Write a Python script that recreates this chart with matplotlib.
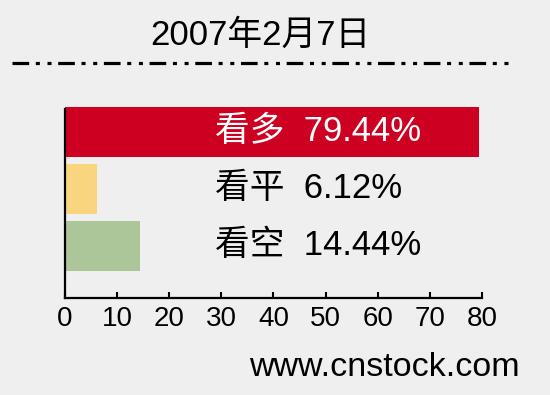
import matplotlib
matplotlib.use("Agg")
import matplotlib.pyplot as plt
from matplotlib.lines import Line2D

# data (bottom to top)
categories = ["看空", "看平", "看多"]
values = [14.44, 6.12, 79.44]
colors = ["#adc699", "#f9d57f", "#ce0021"]
text_colors = ["black", "black", "white"]
title = "2007年2月7日"
source = "www.cnstock.com"
xticks = [0, 10, 20, 30, 40, 50, 60, 70, 80]

plt.rcParams['font.family'] = ['Liberation Sans', 'Noto Sans CJK SC']
plt.rcParams['lines.scale_dashes'] = False

bg = "#efefef"
fig = plt.figure(figsize=(5.5, 3.95), dpi=100, facecolor=bg)
ax = fig.add_axes([0.118, 0.2456, 0.7584, 0.4785], facecolor=bg)

ypos = list(range(len(values)))
ax.barh(ypos, values, height=0.88, color=colors, clip_on=False, zorder=2)

# labels inside the chart
for y, cat, val, tc in zip(ypos, categories, values, text_colors):
    ax.text(28.7, y, f"{cat}  {val:.2f}%", color=tc, fontsize=25,
            va="center", ha="left", zorder=3)

ax.set_xlim(0, 80)
ax.set_ylim(-0.912, 2.40)
ax.set_xticks(xticks)
ax.set_xticklabels([str(t) for t in xticks], fontsize=20)
ax.set_yticks([])
ax.tick_params(axis="x", direction="in", length=4, width=1.5, pad=6, colors="black")
for s in ["top", "right"]:
    ax.spines[s].set_visible(False)
for s in ["left", "bottom"]:
    ax.spines[s].set_linewidth(1.6)
    ax.spines[s].set_color("black")
    ax.spines[s].set_zorder(4)

# title and dash-dot-dot rule
fig.text(260 / 550, 1 - 35 / 395, title, fontsize=25, ha="center", va="center")
rule = Line2D([12 / 550, 513 / 550], [1 - 63 / 395, 1 - 63 / 395],
              transform=fig.transFigure, color="black", linewidth=2.3,
              dash_capstyle="butt")
rule.set_dashes((12, 4.8, 2.9, 5.5, 2.9, 4.8))
fig.add_artist(rule)

# source
fig.text(520 / 550, 1 - 367 / 395, source, fontsize=24.5, ha="right", va="center")

fig.savefig("out.png", dpi=100, facecolor=bg)
